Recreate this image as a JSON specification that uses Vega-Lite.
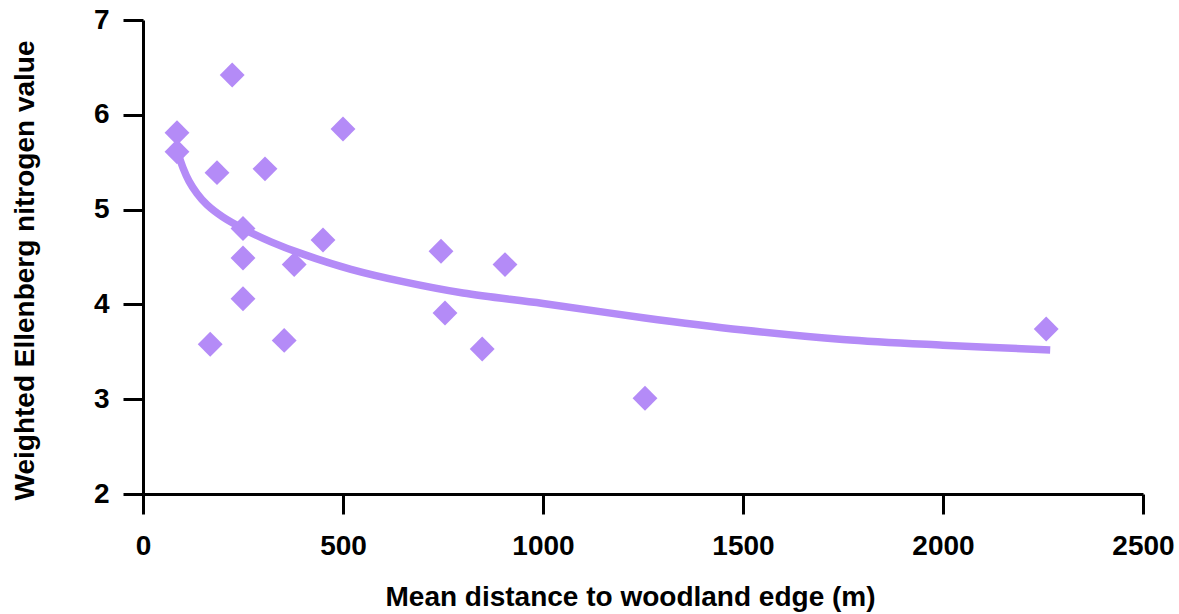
{
  "$schema": "https://vega.github.io/schema/vega-lite/v6.json",
  "autosize": "none",
  "padding": {"left": 143, "top": 20, "right": 36, "bottom": 120},
  "width": 1000,
  "height": 474,
  "background": "white",
  "config": {
    "view": {"stroke": null},
    "axis": {
      "grid": false,
      "domainColor": "black",
      "domainWidth": 3,
      "tickColor": "black",
      "tickWidth": 3,
      "tickSize": 20,
      "labelFont": "Liberation Sans",
      "labelFontSize": 28,
      "labelFontWeight": "bold",
      "labelColor": "black",
      "labelFlush": false,
      "labelOverlap": false,
      "titleFont": "Liberation Sans",
      "titleFontSize": 28,
      "titleFontWeight": "bold",
      "titleColor": "black"
    }
  },
  "datasets": {
    "points": [
      {"distance": 85, "nitrogen": 5.81},
      {"distance": 85, "nitrogen": 5.61},
      {"distance": 223, "nitrogen": 6.42},
      {"distance": 185, "nitrogen": 5.39},
      {"distance": 305, "nitrogen": 5.43},
      {"distance": 500, "nitrogen": 5.85},
      {"distance": 250, "nitrogen": 4.8},
      {"distance": 250, "nitrogen": 4.49},
      {"distance": 250, "nitrogen": 4.06},
      {"distance": 378, "nitrogen": 4.42},
      {"distance": 450, "nitrogen": 4.68},
      {"distance": 168, "nitrogen": 3.58},
      {"distance": 353, "nitrogen": 3.62},
      {"distance": 745, "nitrogen": 4.56},
      {"distance": 755, "nitrogen": 3.91},
      {"distance": 905, "nitrogen": 4.42},
      {"distance": 848, "nitrogen": 3.53},
      {"distance": 1255, "nitrogen": 3.01},
      {"distance": 2258, "nitrogen": 3.74}
    ],
    "curve": [
      {"distance": 87, "nitrogen": 5.6},
      {"distance": 100, "nitrogen": 5.44},
      {"distance": 115, "nitrogen": 5.3},
      {"distance": 135, "nitrogen": 5.17},
      {"distance": 160, "nitrogen": 5.05},
      {"distance": 200, "nitrogen": 4.92},
      {"distance": 250, "nitrogen": 4.8},
      {"distance": 320, "nitrogen": 4.66},
      {"distance": 400, "nitrogen": 4.53},
      {"distance": 520, "nitrogen": 4.37},
      {"distance": 650, "nitrogen": 4.24},
      {"distance": 800, "nitrogen": 4.12},
      {"distance": 1000, "nitrogen": 4.01},
      {"distance": 1250, "nitrogen": 3.86},
      {"distance": 1500, "nitrogen": 3.73},
      {"distance": 1750, "nitrogen": 3.63},
      {"distance": 2000, "nitrogen": 3.57},
      {"distance": 2268, "nitrogen": 3.52}
    ]
  },
  "encoding": {
    "x": {
      "field": "distance",
      "type": "quantitative",
      "scale": {"domain": [0, 2500], "nice": false, "zero": false},
      "axis": {
        "title": "Mean distance to woodland edge (m)",
        "values": [0, 500, 1000, 1500, 2000, 2500],
        "format": "d",
        "labelPadding": 18,
        "titleX": 487,
        "titleY": 103,
        "titleBaseline": "middle"
      }
    },
    "y": {
      "field": "nitrogen",
      "type": "quantitative",
      "scale": {"domain": [2, 7], "nice": false, "zero": false},
      "axis": {
        "title": "Weighted Ellenberg nitrogen value",
        "values": [2, 3, 4, 5, 6, 7],
        "labelPadding": 14,
        "titleX": -118,
        "titleY": 250,
        "titleAngle": -90,
        "titleBaseline": "middle"
      }
    }
  },
  "layer": [
    {
      "data": {"name": "curve"},
      "mark": {"type": "line", "color": "#b48bf7", "strokeWidth": 7.5, "strokeCap": "butt", "interpolate": "catmull-rom"}
    },
    {
      "data": {"name": "points"},
      "mark": {"type": "point", "shape": "diamond", "filled": true, "color": "#b48bf7", "opacity": 1, "size": 620}
    }
  ]
}
